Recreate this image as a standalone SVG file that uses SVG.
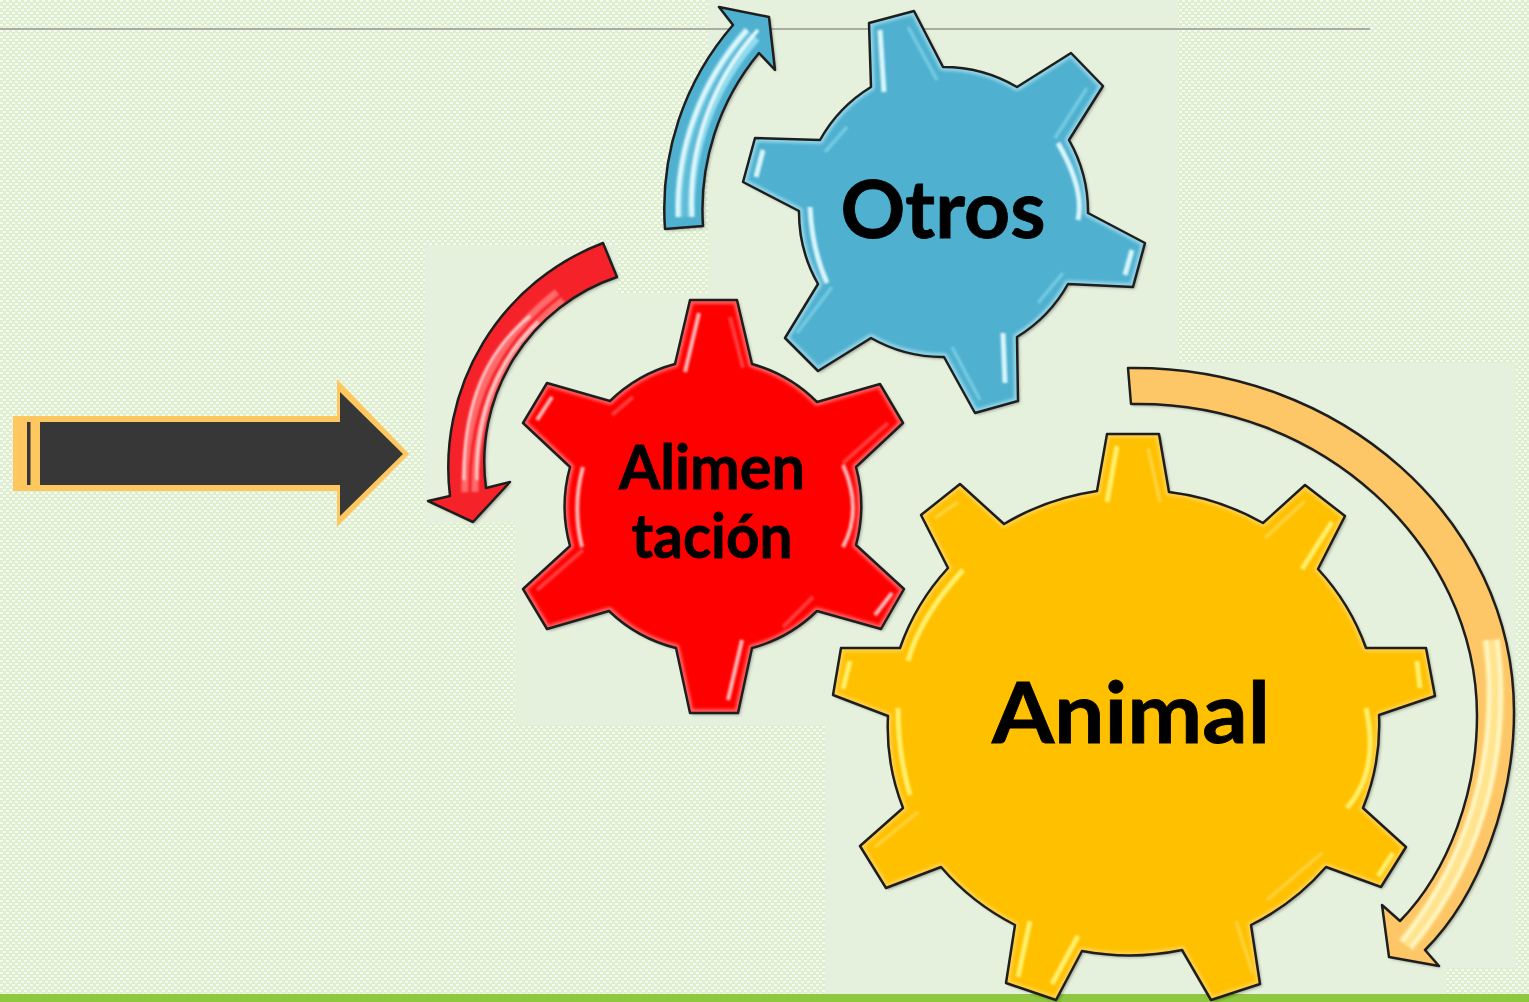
<svg xmlns="http://www.w3.org/2000/svg" width="1529" height="1002" viewBox="0 0 1529 1002">
<style>
.edge{fill:none;stroke:#1e1e1e;stroke-width:2.5;stroke-linejoin:round}
.rim{fill:none;stroke-width:8;stroke-linejoin:round}
.g{fill:none;stroke-linecap:butt}
.lb{font-family:"Lato","Open Sans","Noto Sans",sans-serif;font-weight:700;fill:#000;stroke:#000;stroke-width:.8;text-anchor:middle}
.blue{fill:#4fb0cf}.red{fill:#ff0000}.gold{fill:#ffc000}.orange{fill:#fdc768}
.bh{stroke:#d8f6fc;stroke-width:5}.bm{stroke:#74cbe3;stroke-width:3.5}
.rh{stroke:#ffb8b8;stroke-width:4}.rm{stroke:#ff3c3c;stroke-width:4}
.yh{stroke:#fff06a;stroke-width:5}.ym{stroke:#ffd23c;stroke-width:3.5}
</style>
<defs>
<pattern id="dots" width="6" height="6" patternUnits="userSpaceOnUse">
<rect width="6" height="6" fill="#deefd0"/>
<rect x="0" y="0" width="3" height="2" fill="#f6faf2"/>
<rect x="3" y="3" width="3" height="2" fill="#f6faf2"/>
</pattern>
<filter id="sh" x="-5%" y="-5%" width="110%" height="110%"><feDropShadow dx="2" dy="2" stdDeviation="1.6" flood-color="#000" flood-opacity=".3"/></filter>
<filter id="soft" x="-20%" y="-20%" width="140%" height="140%"><feGaussianBlur stdDeviation=".9"/></filter>
<filter id="soft2" x="-10%" y="-10%" width="120%" height="120%"><feGaussianBlur stdDeviation="1.8"/></filter>
<path id="gearO" d="M871,87L869,23L914,11L943,67A145,145 0 0 1 1017,87L1071,53L1103,86L1069,140A145,145 0 0 1 1088,213L1145,243L1133,287L1068,284A145,145 0 0 1 1017,337L1018,401L975,413L944,357A145,145 0 0 1 871,338L818,371L785,338L818,284A145,145 0 0 1 799,211L743,182L755,138L820,140A145,145 0 0 1 871,87Z"/>
<path id="gearR" d="M675,364L690,300H737L752,364A148,148 0 0 1 817,402L880,384L903,423L856,467A148,148 0 0 1 856,545L904,589L881,629L817,611A148,148 0 0 1 752,648L738,713H690L676,648A148,148 0 0 1 609,611L547,629L523,589L570,546A148,148 0 0 1 570,467L523,423L547,383L610,401A148,148 0 0 1 675,364Z"/>
<path id="gearA" d="M1097,491L1107,434H1159L1169,492A245,232 0 0 1 1263,523L1305,485L1345,516L1318,569A245,232 0 0 1 1366,648H1426L1435,696L1379,715A245,232 0 0 1 1363,808L1406,847L1381,887L1326,867A245,232 0 0 1 1251,925L1260,984L1211,1000L1182,950A245,232 0 0 1 1082,951L1056,1000L1006,983L1015,925A245,232 0 0 1 941,867L886,888L860,846L903,808A245,232 0 0 1 888,716L833,695L841,648H900A245,232 0 0 1 948,568L921,515L960,484L1004,524A245,232 0 0 1 1097,491Z"/>
<path id="arrB" d="M665,229A280,280 0 0 1 733,25L719,7L769,17L775,70L759,53A245,245 0 0 0 703,226Z"/>
<path id="arrR" d="M603,243A240,240 0 0 0 450,496L428,501L473,522L510,482L486,488A195,195 0 0 1 617,277Z"/>
<path id="arrO" d="M1128,368C1340,365 1514,520 1514,712C1514,800 1480,895 1425,950L1439,966L1389,957L1382,905L1400,921C1450,870 1477,790 1477,716C1477,545 1320,400 1131,404Z"/>
<clipPath id="cO"><use href="#gearO"/></clipPath>
<clipPath id="cR"><use href="#gearR"/></clipPath>
<clipPath id="cA"><use href="#gearA"/></clipPath>
<clipPath id="cB"><use href="#arrB"/></clipPath>
<clipPath id="cRr"><use href="#arrR"/></clipPath>
<clipPath id="cOr"><use href="#arrO"/></clipPath>
</defs>

<g id="background">
<rect width="1529" height="1002" fill="url(#dots)"/>
<path d="M425,245H617V293H708V0H1178V363H1516V968H1445V994H825V725H515V523H425Z" fill="#e6f1dd"/>
<rect x="0" y="28" width="1370" height="2" fill="#a9aea3"/>
<rect x="0" y="994" width="1529" height="8" fill="#8fc73e"/>
</g>

<g id="connectors">
<g id="arrow-input">
<path d="M13,416H337V379L409,454L337,527V491H13Z" fill="#fec75f"/>
<path d="M40,422H340V392L403,454L340,516V485H40Z" fill="#373737"/>
<rect x="27" y="422" width="3.5" height="63" fill="#373737"/>
</g>
<g id="arrow-blue">
<use href="#arrB" class="blue" filter="url(#sh)"/>
<g clip-path="url(#cB)" filter="url(#soft)">
<path class="g" stroke="#8fdcee" stroke-width="20" d="M685,217A262,262 0 0 1 752,34"/>
<path class="g" stroke="#5fbcd8" stroke-width="6" d="M685,217A262,262 0 0 1 752,34"/>
<path class="g" stroke="#e4fafd" stroke-width="3.5" d="M678,217A268,268 0 0 1 747,30"/>
<path class="g" stroke="#e4fafd" stroke-width="3.5" d="M692,217A255,255 0 0 1 758,30"/>
</g>
<use href="#arrB" class="edge"/>
</g>
<g id="arrow-red">
<use href="#arrR" fill="#f6232a" filter="url(#sh)"/>
<g clip-path="url(#cRr)" filter="url(#soft)">
<path class="g" stroke="#ff6a6a" stroke-width="17" d="M560,296Q468,368 470,492"/>
<path class="g" stroke="#f6232a" stroke-width="4" d="M560,296Q468,368 470,492"/>
<path class="g" stroke="#ffd6d6" stroke-width="2.5" d="M530,316Q462,370 464,480"/>
<path class="g" stroke="#ffd6d6" stroke-width="2.5" d="M538,322Q475,382 477,480"/>
</g>
<use href="#arrR" class="edge"/>
</g>
<g id="arrow-orange">
<use href="#arrO" class="orange" filter="url(#sh)"/>
<g clip-path="url(#cOr)" filter="url(#soft)">
<path class="g" stroke="#ffe48f" stroke-width="18" d="M1491,640C1504,732 1487,845 1406,945"/>
<path class="g" stroke="#fff6c4" stroke-width="3.5" d="M1486,640C1498,730 1482,840 1402,942"/>
<path class="g" stroke="#fff6c4" stroke-width="3.5" d="M1497,640C1509,735 1492,850 1411,947"/>
</g>
<use href="#arrO" class="edge"/>
</g>
</g>

<g id="node-otros">
<use href="#gearO" class="blue" filter="url(#sh)"/>
<g clip-path="url(#cO)"><use href="#gearO" class="rim" stroke="#8fd3e6" filter="url(#soft2)"/></g>
<g filter="url(#soft)">
<path class="g bh" d="M880,30L884,92M1132,250L1125,275M763,150L756,177M1003,333L1005,383"/>
<path class="g bh" d="M810,207Q812,250 827,283M1058,143Q1085,190 1078,220"/>
<path class="g bm" d="M908,27L937,80M1087,88L1055,138M1063,273L1038,303M952,347L980,400M832,287L797,333M847,127L825,152"/>
</g>
<use href="#gearO" class="edge"/>
<text class="lb" x="943" y="238" font-size="80" textLength="205" lengthAdjust="spacingAndGlyphs">Otros</text>
</g>

<g id="node-alimentacion">
<use href="#gearR" class="red" filter="url(#sh)"/>
<g clip-path="url(#cR)"><use href="#gearR" class="rim" stroke="#ff5a5a" filter="url(#soft2)"/></g>
<g filter="url(#soft)">
<path class="g rh" d="M699,313L685,372M552,397L537,420M892,593L875,615M742,640L728,700"/>
<path class="g rh" d="M843,465Q863,510 843,547M583,467Q572,507 582,547"/>
<path class="g rm" d="M730,317L743,368M612,415L633,397M888,423L843,463M813,597L783,627M583,550L537,590"/>
</g>
<use href="#gearR" class="edge"/>
<text class="lb" x="712" y="489" font-size="62" textLength="186" lengthAdjust="spacingAndGlyphs">Alimen</text>
<text class="lb" x="712" y="558" font-size="62" textLength="161" lengthAdjust="spacingAndGlyphs">tación</text>
</g>

<g id="node-animal">
<use href="#gearA" class="gold" filter="url(#sh)"/>
<g clip-path="url(#cA)"><use href="#gearA" class="rim" stroke="#ffcf45" filter="url(#soft2)"/></g>
<g filter="url(#soft)">
<path class="g yh" d="M1117,446L1107,502M850,661L843,689M1030,921L1018,977M1078,936L1052,984M1332,522L1302,569M1417,661L1420,688M1393,853L1378,876"/>
<path class="g yh" d="M963,570Q920,617 908,661M898,708Q898,754 910,795M1366,708Q1380,770 1347,808"/>
<path class="g ym" d="M1148,448L1160,502M958,502L935,518M918,812L875,847M1305,501L1265,538M1322,853L1267,900M1236,921L1253,974"/>
</g>
<use href="#gearA" class="edge"/>
<text class="lb" x="1131" y="743" font-size="85" textLength="278" lengthAdjust="spacingAndGlyphs">Animal</text>
</g>
</svg>
